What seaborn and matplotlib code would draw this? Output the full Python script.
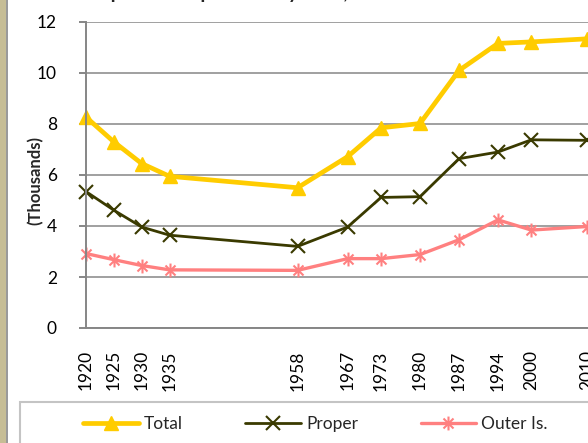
import numpy as np
import pandas as pd
import seaborn as sns
import matplotlib.pyplot as plt
from matplotlib.path import Path
from matplotlib.patches import Rectangle

# %% Dados (milhares de habitantes)
anos = [1920, 1925, 1930, 1935, 1958, 1967, 1973, 1980, 1987, 1994, 2000, 2010]
total = [8.27, 7.30, 6.45, 5.95, 5.50, 6.72, 7.85, 8.02, 10.10, 11.16, 11.22, 11.34]
proper = [5.35, 4.62, 3.96, 3.64, 3.20, 3.96, 5.12, 5.15, 6.64, 6.90, 7.38, 7.36]
outer = [2.92, 2.68, 2.45, 2.28, 2.26, 2.72, 2.72, 2.88, 3.46, 4.24, 3.84, 3.98]

series_nomes = ["Total", "Proper", "Outer Is."]
titulo = "Yap State Population by Year, 1920 to 2010"
rotulo_y = "(Thousands)"

df = pd.DataFrame({"ano": anos, "Total": total, "Proper": proper, "Outer Is.": outer})

# %% Estilo
sns.set_style("white")
plt.rcParams["font.family"] = ["Lato", "DejaVu Sans"]

W, H = 588, 443
fig = plt.figure(figsize=(W / 100, H / 100), dpi=100)

# faixa bege na borda esquerda
fig.patches.append(Rectangle((0, 0), 6 / W, 1, transform=fig.transFigure,
                             facecolor="#C6BD95", edgecolor="none"))
fig.patches.append(Rectangle((6 / W, 0), 2 / W, 1, transform=fig.transFigure,
                             facecolor="#9A9A9A", edgecolor="none"))

px_ano = 5.567
x_max = 2014
ax_w = (x_max - 1920) * px_ano
ax = fig.add_axes([86 / W, (H - 328) / H, ax_w / W, 306 / H])

estrela = Path([(0, -1), (0, 1), (-0.72, -0.72), (0.72, 0.72), (-0.72, 0.72), (0.72, -0.72)],
               [Path.MOVETO, Path.LINETO, Path.MOVETO, Path.LINETO, Path.MOVETO, Path.LINETO])

estilos = {
    "Total": dict(color="#FFCC00", marker="^", markersize=10.5, linewidth=3.4,
                  markeredgecolor="#FFCC00", markeredgewidth=1),
    "Proper": dict(color="#3A3A00", marker="x", markersize=10, linewidth=2.0,
                   markeredgecolor="#3A3A00", markeredgewidth=1.5),
    "Outer Is.": dict(color="#FF8080", marker=estrela, markersize=10, linewidth=2.4,
                      markeredgecolor="#FF8080", markeredgewidth=1.5),
}

for nome in series_nomes:
    sns.lineplot(data=df, x="ano", y=nome, ax=ax, label=nome, clip_on=False,
                 **estilos[nome])

ax.set_xlim(1920, x_max)
ax.set_ylim(0, 12)
ax.set_yticks(range(0, 13, 2))
ax.set_xticks(anos)
ax.set_xticklabels([str(a) for a in anos], rotation=90)
ax.set_xlabel("")
ax.set_ylabel("")

ax.grid(axis="y", color="#A0A0A0", linewidth=1.4)
ax.grid(axis="x", visible=False)
ax.set_axisbelow(True)
for lado in ["top", "right"]:
    ax.spines[lado].set_visible(False)
for lado in ["left", "bottom"]:
    ax.spines[lado].set_color("#868686")
    ax.spines[lado].set_linewidth(1.4)

ax.tick_params(axis="y", length=5, width=1.4, color="#868686", pad=16,
               labelsize=12.5, labelcolor="black", left=True)
ax.tick_params(axis="x", length=0, pad=16, labelsize=12.5, labelcolor="black")

leg = ax.get_legend()
if leg is not None:
    leg.remove()

fig.text(35 / W, 1 - 181 / H, rotulo_y, rotation=90, ha="center", va="center",
         fontsize=12, fontweight="bold")

# titulo (cortado no topo da imagem)
fig.text(88 / W, 1 + 1.5 / H, titulo, ha="left", va="baseline",
         fontsize=14, fontweight="bold")

# moldura da legenda
fig.patches.append(Rectangle((20 / W, -0.2), 1.2, 0.2 + (H - 402) / H,
                             transform=fig.transFigure, facecolor="white",
                             edgecolor="#C4C4C4", linewidth=1.5))

handles, labels = ax.get_legend_handles_labels()
fig.legend(handles, labels, loc="center left", bbox_to_anchor=(83 / W, 1 - 424 / H),
           ncol=3, frameon=False, fontsize=12.5, handlelength=3.2,
           handletextpad=0.3, columnspacing=3.6, borderpad=0, borderaxespad=0)

fig.savefig("out.png", dpi=100)
